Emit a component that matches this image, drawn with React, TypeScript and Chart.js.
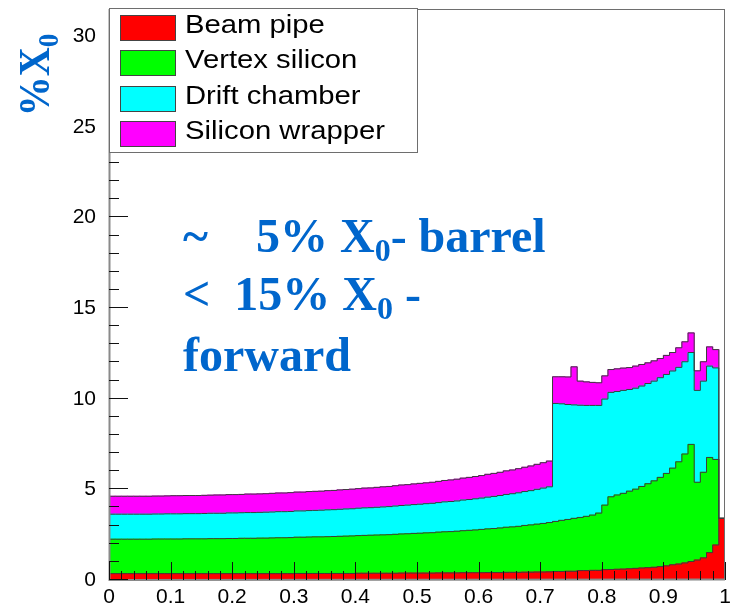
import { useEffect, useRef } from 'react';
import { Chart, registerables } from 'chart.js';

Chart.register(...registerables);

// Material budget per |cos(theta)| bin (100 bins from 0 to 1), in % of X0
const beamPipe = [
  0.35, 0.35, 0.35, 0.35, 0.35, 0.35, 0.35, 0.35, 0.35, 0.35,
  0.35, 0.35, 0.35, 0.35, 0.35, 0.35, 0.35, 0.35, 0.35, 0.35,
  0.35, 0.35, 0.35, 0.35, 0.35, 0.35, 0.35, 0.35, 0.35, 0.35,
  0.36, 0.36, 0.36, 0.36, 0.36, 0.36, 0.36, 0.36, 0.36, 0.36,
  0.37, 0.37, 0.37, 0.37, 0.37, 0.37, 0.37, 0.38, 0.38, 0.38,
  0.38, 0.38, 0.38, 0.39, 0.39, 0.39, 0.39, 0.40, 0.40, 0.40,
  0.40, 0.41, 0.41, 0.41, 0.42, 0.42, 0.42, 0.43, 0.43, 0.44,
  0.44, 0.45, 0.47, 0.47, 0.48, 0.48, 0.52, 0.52, 0.53, 0.53,
  0.57, 0.58, 0.59, 0.60, 0.62, 0.64, 0.66, 0.68, 0.70, 0.74,
  0.78, 0.84, 0.88, 0.94, 1.02, 1.10, 1.22, 1.51, 1.93, 3.40,
];

const vertexSilicon = [
  1.90, 1.90, 1.90, 1.90, 1.90, 1.90, 1.90, 1.91, 1.91, 1.91,
  1.91, 1.91, 1.92, 1.92, 1.92, 1.92, 1.93, 1.93, 1.93, 1.94,
  1.94, 1.95, 1.95, 1.95, 1.96, 1.96, 1.97, 1.98, 1.98, 1.99,
  2.00, 2.00, 2.01, 2.02, 2.02, 2.03, 2.04, 2.05, 2.06, 2.07,
  2.08, 2.09, 2.10, 2.11, 2.12, 2.13, 2.15, 2.16, 2.17, 2.19,
  2.20, 2.22, 2.23, 2.25, 2.27, 2.28, 2.30, 2.32, 2.34, 2.36,
  2.39, 2.41, 2.43, 2.46, 2.49, 2.51, 2.54, 2.58, 2.61, 2.64,
  2.68, 2.72, 2.76, 2.82, 2.86, 2.92, 2.93, 2.99, 3.05, 3.16,
  3.56, 4.01, 4.10, 4.18, 4.28, 4.37, 4.50, 4.63, 4.77, 4.92,
  5.10, 5.33, 5.64, 6.01, 6.46, 4.29, 4.72, 5.25, 4.72, 0,
];

const driftChamber = [
  1.38, 1.38, 1.38, 1.38, 1.38, 1.38, 1.38, 1.38, 1.38, 1.39,
  1.39, 1.39, 1.39, 1.39, 1.39, 1.40, 1.40, 1.40, 1.40, 1.41,
  1.41, 1.41, 1.42, 1.42, 1.42, 1.43, 1.43, 1.44, 1.44, 1.44,
  1.45, 1.45, 1.46, 1.46, 1.47, 1.48, 1.48, 1.49, 1.50, 1.50,
  1.51, 1.52, 1.52, 1.53, 1.54, 1.55, 1.56, 1.57, 1.58, 1.59,
  1.60, 1.61, 1.62, 1.63, 1.65, 1.66, 1.67, 1.69, 1.70, 1.72,
  1.73, 1.75, 1.77, 1.79, 1.81, 1.83, 1.85, 1.87, 1.89, 1.92,
  1.95, 1.97, 6.51, 6.43, 6.34, 6.26, 6.19, 6.12, 6.05, 5.94,
  5.85, 5.76, 5.71, 5.68, 5.61, 5.57, 5.54, 5.53, 5.50, 5.50,
  5.46, 5.36, 5.21, 5.09, 5.07, 5.07, 5.03, 5.04, 5.05, 0,
];

const siliconWrapper = [
  0.99, 0.99, 0.99, 0.99, 0.99, 0.99, 0.99, 0.99, 0.99, 0.99,
  1.00, 1.00, 1.00, 1.00, 1.00, 1.00, 1.00, 1.01, 1.01, 1.01,
  1.01, 1.01, 1.02, 1.02, 1.02, 1.02, 1.03, 1.03, 1.03, 1.04,
  1.04, 1.04, 1.05, 1.05, 1.05, 1.06, 1.06, 1.07, 1.07, 1.08,
  1.08, 1.09, 1.09, 1.10, 1.11, 1.11, 1.12, 1.13, 1.13, 1.14,
  1.15, 1.15, 1.16, 1.17, 1.18, 1.19, 1.20, 1.21, 1.22, 1.23,
  1.24, 1.26, 1.27, 1.28, 1.30, 1.31, 1.33, 1.34, 1.36, 1.38,
  1.40, 1.42, 1.47, 1.49, 1.52, 2.10, 1.33, 1.30, 1.27, 1.25,
  1.28, 1.26, 1.25, 1.23, 1.21, 1.22, 1.19, 1.14, 1.12, 1.06,
  1.05, 1.02, 1.08, 1.10, 1.08, 1.08, 1.07, 1.06, 1.01, 0,
];

const seriesNames = ['Beam pipe', 'Vertex silicon', 'Drift chamber', 'Silicon wrapper'];
const seriesColors = ['#ff0000', '#00ff00', '#00ffff', '#ff00ff'];
const seriesValues = [beamPipe, vertexSilicon, driftChamber, siliconWrapper];

const xMin = 0;
const xMax = 1;
const yMax = 31.5;
const xTickValues = [0, 0.1, 0.2, 0.3, 0.4, 0.5, 0.6, 0.7, 0.8, 0.9, 1];
const xTickLabels = ['0', '0.1', '0.2', '0.3', '0.4', '0.5', '0.6', '0.7', '0.8', '0.9', '1'];
const yTickValues = [0, 5, 10, 15, 20, 25, 30];
const yTickLabels = ['0', '5', '10', '15', '20', '25', '30'];

const binWidth = (xMax - xMin) / beamPipe.length;
const binCenters = beamPipe.map((_, i) => xMin + (i + 0.5) * binWidth);

const BLUE = '#0066cc';
const SANS = '"Liberation Sans", Arial, sans-serif';
const SERIF = '"Liberation Serif", "Times New Roman", serif';

// Histogram outlines, inward tick marks and the frame, drawn over the filled bars
const rootStylePlugin = {
  id: 'rootStyle',
  afterDatasetsDraw(chart: any) {
    const { ctx, chartArea, scales } = chart;
    const { left, right, top, bottom } = chartArea;
    ctx.save();

    // step outline along the top of each stacked layer
    ctx.strokeStyle = '#3c3c3c';
    ctx.lineWidth = 1;
    chart.data.datasets.forEach((_: any, d: number) => {
      const meta = chart.getDatasetMeta(d);
      ctx.beginPath();
      meta.data.forEach((bar: any, i: number) => {
        const p = bar.getProps(['x', 'y', 'width'], true);
        const x0 = p.x - p.width / 2;
        const x1 = p.x + p.width / 2;
        if (i === 0) ctx.moveTo(x0, p.y);
        else ctx.lineTo(x0, p.y);
        ctx.lineTo(x1, p.y);
      });
      ctx.stroke();
    });

    // frame
    ctx.strokeStyle = '#6e6e6e';
    ctx.lineWidth = 1;
    ctx.strokeRect(left + 0.5, top + 0.5, right - left - 1, bottom - top - 1);

    // axis lines
    ctx.strokeStyle = '#8a8a8a';
    ctx.lineWidth = 2;
    ctx.beginPath();
    ctx.moveTo(left + 0.5, top);
    ctx.lineTo(left + 0.5, bottom);
    ctx.lineTo(right, bottom - 0.5);
    ctx.stroke();

    // tick marks pointing into the plot
    ctx.strokeStyle = '#111';
    ctx.lineWidth = 1;
    ctx.beginPath();
    for (let k = 0; k <= 50; k++) {
      const px = Math.round(scales.x.getPixelForValue(xMin + k * 0.02)) + 0.5;
      const len = k % 5 === 0 ? 18 : 9;
      ctx.moveTo(px, bottom);
      ctx.lineTo(px, bottom - len);
    }
    for (let v = 0; v <= Math.floor(yMax); v++) {
      const py = Math.round(scales.y.getPixelForValue(v)) - 0.5;
      const len = v % 5 === 0 ? 19 : 10;
      ctx.moveTo(left, py);
      ctx.lineTo(left + len, py);
    }
    ctx.stroke();
    ctx.restore();
  },
};

export default function App() {
  const canvasRef = useRef<HTMLCanvasElement | null>(null);

  useEffect(() => {
    const canvas = canvasRef.current;
    if (!canvas) return;

    const chart = new Chart(canvas, {
      type: 'bar',
      data: {
        datasets: seriesValues.map((values, s) => ({
          label: seriesNames[s],
          data: values.map((v, i) => ({ x: binCenters[i], y: v })),
          backgroundColor: seriesColors[s],
          borderWidth: 0,
          categoryPercentage: 1,
          barPercentage: 1,
          inflateAmount: 0.5,
        })),
      },
      options: {
        animation: false,
        responsive: false,
        events: [],
        layout: { padding: { left: 0, top: 9, right: 12, bottom: 0 } },
        plugins: {
          legend: { display: false },
          tooltip: { enabled: false },
        },
        scales: {
          x: {
            type: 'linear',
            min: xMin,
            max: xMax,
            offset: false,
            stacked: true,
            grid: { display: false },
            border: { display: false },
            afterBuildTicks: (scale: any) => {
              scale.ticks = xTickValues.map((value) => ({ value }));
            },
            afterFit: (scale: any) => {
              scale.height = 24;
            },
            ticks: {
              autoSkip: false,
              maxRotation: 0,
              minRotation: 0,
              padding: -1,
              color: '#000',
              font: { family: SANS, size: 21, lineHeight: 1 },
              callback: (_v: any, i: number) => xTickLabels[i],
            },
          },
          y: {
            type: 'linear',
            min: 0,
            max: yMax,
            stacked: true,
            grid: { display: false },
            border: { display: false },
            afterBuildTicks: (scale: any) => {
              scale.ticks = yTickValues.map((value) => ({ value }));
            },
            afterFit: (scale: any) => {
              scale.width = 109;
            },
            ticks: {
              autoSkip: false,
              padding: 5,
              color: '#000',
              font: { family: SANS, size: 21, lineHeight: 0.2 },
              callback: (_v: any, i: number) => yTickLabels[i],
            },
          },
        },
      },
      plugins: [rootStylePlugin],
    } as any);

    return () => chart.destroy();
  }, []);

  const swatchTops = [15, 50, 86, 121];

  return (
    <div
      style={{
        position: 'fixed',
        left: 0,
        top: 0,
        width: 737,
        height: 604,
        background: '#fff',
        overflow: 'hidden',
      }}
    >
      <canvas
        ref={canvasRef}
        width={737}
        height={604}
        style={{ position: 'absolute', left: 0, top: 0, width: 737, height: 604 }}
      />

      {/* y-axis title */}
      <div
        style={{
          position: 'absolute',
          left: 35,
          top: 75,
          transform: 'translate(-50%, -50%) rotate(-90deg) scale(1, 1.1)',
          whiteSpace: 'pre',
          fontFamily: SERIF,
          fontWeight: 'bold',
          fontSize: 40,
          lineHeight: '40px',
          color: BLUE,
        }}
      >
        %X<span style={{ fontSize: 27, position: 'relative', top: 8, lineHeight: '27px' }}>0</span>
      </div>

      {/* legend */}
      <div
        style={{
          position: 'absolute',
          left: 109,
          top: 8,
          width: 307,
          height: 143,
          border: '1px solid #6e6e6e',
          background: '#fff',
        }}
      />
      {seriesNames.map((name, s) => (
        <div key={name}>
          <div
            style={{
              position: 'absolute',
              left: 120,
              top: swatchTops[s],
              width: 54,
              height: 24,
              background: seriesColors[s],
              border: '1px solid #444',
            }}
          />
          <div
            style={{
              position: 'absolute',
              left: 185,
              top: swatchTops[s] - 3,
              fontFamily: SANS,
              fontSize: 25,
              lineHeight: '25px',
              color: '#000',
              whiteSpace: 'pre',
              transform: 'scaleX(1.17)',
              transformOrigin: 'left center',
            }}
          >
            {name}
          </div>
        </div>
      ))}

      {/* annotation */}
      {[
        { top: 212, text: ['~    5% X', '0', '- barrel'] },
        { top: 270, text: ['<  15% X', '0', ' -'] },
        { top: 331, text: ['forward', '', ''] },
      ].map((line, k) => (
        <div
          key={k}
          style={{
            position: 'absolute',
            left: 183,
            top: line.top,
            fontFamily: SERIF,
            fontWeight: 'bold',
            fontSize: 48,
            lineHeight: '48px',
            color: BLUE,
            whiteSpace: 'pre',
          }}
        >
          {line.text[0]}
          {line.text[1] ? (
            <span style={{ fontSize: 32, position: 'relative', top: 9, lineHeight: '32px' }}>
              {line.text[1]}
            </span>
          ) : null}
          {line.text[2]}
        </div>
      ))}
    </div>
  );
}
